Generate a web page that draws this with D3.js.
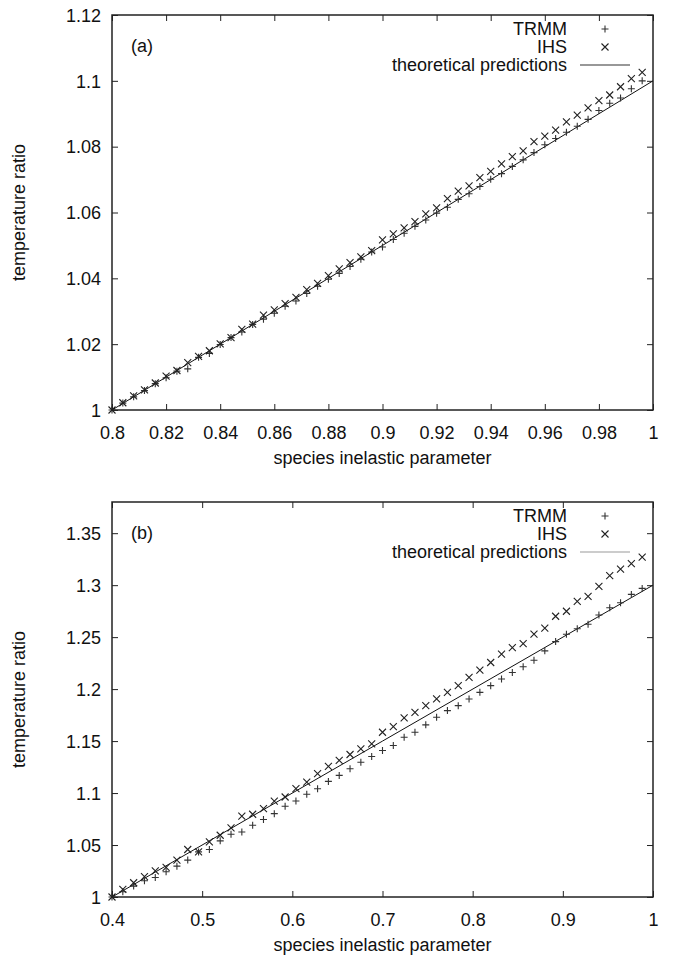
<!DOCTYPE html>
<html><head><meta charset="utf-8">
<script src="https://cdn.jsdelivr.net/npm/d3@7"></script>
<style>
body{margin:0;background:#fff;}
svg{display:block;}
text{font-family:"Liberation Sans",Arial,Helvetica,sans-serif;fill:#111;}
</style></head>
<body>
<svg id="chart" width="682" height="959"></svg>
<script>
// ---------- Panel (a) data ----------
const xA = [0.800,0.804,0.808,0.812,0.816,0.820,0.824,0.828,0.832,0.836,0.840,0.844,0.848,0.852,0.856,0.860,0.864,0.868,0.872,0.876,0.880,0.884,0.888,0.892,0.896,0.900,0.904,0.908,0.912,0.916,0.920,0.924,0.928,0.932,0.936,0.940,0.944,0.948,0.952,0.956,0.960,0.964,0.968,0.972,0.976,0.980,0.984,0.988,0.992,0.996];
const trmmA = [1.0000,1.0021,1.0040,1.0059,1.0080,1.0098,1.0118,1.0125,1.0160,1.0172,1.0199,1.0220,1.0237,1.0260,1.0276,1.0294,1.0315,1.0331,1.0354,1.0376,1.0397,1.0415,1.0436,1.0458,1.0480,1.0495,1.0518,1.0537,1.0558,1.0577,1.0598,1.0616,1.0640,1.0657,1.0679,1.0701,1.0718,1.0740,1.0760,1.0782,1.0806,1.0825,1.0844,1.0862,1.0883,1.0910,1.0932,1.0948,1.0976,1.1000];
const ihsA = [1.0000,1.0022,1.0043,1.0061,1.0082,1.0103,1.0120,1.0144,1.0163,1.0180,1.0201,1.0220,1.0245,1.0261,1.0288,1.0304,1.0323,1.0342,1.0366,1.0385,1.0408,1.0429,1.0448,1.0465,1.0484,1.0517,1.0535,1.0553,1.0572,1.0596,1.0614,1.0642,1.0665,1.0681,1.0706,1.0725,1.0748,1.0770,1.0787,1.0815,1.0832,1.0850,1.0875,1.0896,1.0918,1.0940,1.0957,1.0982,1.1007,1.1026];
const theoryXA = [0.8, 0.9, 1.0];
const theoryYA = [1.0, 1.05, 1.1];
const xTicksA = [0.8,0.82,0.84,0.86,0.88,0.9,0.92,0.94,0.96,0.98,1];
const xTickLabelsA = ["0.8","0.82","0.84","0.86","0.88","0.9","0.92","0.94","0.96","0.98","1"];
const yTicksA = [1,1.02,1.04,1.06,1.08,1.1,1.12];
const yTickLabelsA = ["1","1.02","1.04","1.06","1.08","1.1","1.12"];

// ---------- Panel (b) data ----------
const xB = [0.400,0.412,0.424,0.436,0.448,0.460,0.472,0.484,0.496,0.508,0.520,0.532,0.544,0.556,0.568,0.580,0.592,0.604,0.616,0.628,0.640,0.652,0.664,0.676,0.688,0.700,0.712,0.724,0.736,0.748,0.760,0.772,0.784,0.796,0.808,0.820,0.832,0.844,0.856,0.868,0.880,0.892,0.904,0.916,0.928,0.940,0.952,0.964,0.976,0.988];
const trmmB = [1.0000,1.0051,1.0105,1.0156,1.0188,1.0243,1.0297,1.0355,1.0434,1.0457,1.0540,1.0604,1.0626,1.0690,1.0745,1.0802,1.0873,1.0923,1.0988,1.1042,1.1112,1.1170,1.1234,1.1297,1.1352,1.1409,1.1457,1.1537,1.1585,1.1656,1.1729,1.1793,1.1841,1.1905,1.1969,1.2033,1.2097,1.2160,1.2215,1.2278,1.2368,1.2457,1.2528,1.2580,1.2624,1.2713,1.2783,1.2831,1.2911,1.2969];
const ihsB = [1.0000,1.0074,1.0137,1.0195,1.0252,1.0285,1.0355,1.0457,1.0434,1.0530,1.0594,1.0664,1.0777,1.0796,1.0850,1.0923,1.0962,1.1042,1.1106,1.1186,1.1256,1.1314,1.1371,1.1426,1.1474,1.1585,1.1640,1.1723,1.1777,1.1841,1.1905,1.1969,1.2033,1.2112,1.2183,1.2256,1.2336,1.2400,1.2438,1.2528,1.2586,1.2701,1.2749,1.2845,1.2893,1.2989,1.3091,1.3155,1.3207,1.3270];
const theoryXB = [0.4, 0.7, 1.0];
const theoryYB = [1.0, 1.15, 1.3];
const xTicksB = [0.4,0.5,0.6,0.7,0.8,0.9,1];
const xTickLabelsB = ["0.4","0.5","0.6","0.7","0.8","0.9","1"];
const yTicksB = [1,1.05,1.1,1.15,1.2,1.25,1.3,1.35];
const yTickLabelsB = ["1","1.05","1.1","1.15","1.2","1.25","1.3","1.35"];

const seriesNames = ["TRMM","IHS","theoretical predictions"];
const xTitle = "species inelastic parameter";
const yTitle = "temperature ratio";

const svg = d3.select("#chart");
const FS = 18;

function plusPath(r){ return `M${-r},0H${r}M0,${-r}V${r}`; }
function crossPath(r){ return `M${-r},${-r}L${r},${r}M${-r},${r}L${r},${-r}`; }

function drawPanel(p){
  const L=112, R=653, T=p.top, B=p.top+395;
  const x = d3.scaleLinear().domain(p.xDomain).range([L,R]);
  const y = d3.scaleLinear().domain(p.yDomain).range([B,T]);
  const g = svg.append("g");
  const tk = 6;

  const xLab = d3.scaleOrdinal().domain(p.xTicks).range(p.xLabels);
  const yLab = d3.scaleOrdinal().domain(p.yTicks).range(p.yLabels);

  const ax = g.append("g").attr("transform",`translate(0,${B})`)
    .call(d3.axisBottom(x).tickValues(p.xTicks).tickFormat(d=>xLab(d)).tickSize(-tk).tickPadding(16));
  const axT = g.append("g").attr("transform",`translate(0,${T})`)
    .call(d3.axisTop(x).tickValues(p.xTicks).tickFormat("").tickSize(-tk));
  const ay = g.append("g").attr("transform",`translate(${L},0)`)
    .call(d3.axisLeft(y).tickValues(p.yTicks).tickFormat(d=>yLab(d)).tickSize(-tk).tickPadding(11));
  const ayR = g.append("g").attr("transform",`translate(${R},0)`)
    .call(d3.axisRight(y).tickValues(p.yTicks).tickFormat("").tickSize(-tk));
  [ax,axT,ay,ayR].forEach(a=>{
    a.select(".domain").remove();
    a.selectAll(".tick line").attr("stroke","#222").attr("stroke-width",1);
    a.selectAll(".tick text").attr("font-size",FS).attr("font-family","Liberation Sans, Arial, sans-serif").attr("fill","#111");
  });
  ay.selectAll(".tick text").attr("dy","0.35em");

  // theory line
  const line = d3.line().x(d=>x(d[0])).y(d=>y(d[1]));
  g.append("path").datum(p.thX.map((v,i)=>[v,p.thY[i]]))
    .attr("d",line).attr("fill","none").attr("stroke","#111").attr("stroke-width",1);

  // markers
  const r = 3.5;
  g.append("g").selectAll("path").data(p.xs.map((v,i)=>[v,p.trmm[i]])).join("path")
    .attr("transform",d=>`translate(${x(d[0])},${y(d[1])})`)
    .attr("d",plusPath(r)).attr("stroke","#333").attr("stroke-width",1.1).attr("fill","none");
  g.append("g").selectAll("path").data(p.xs.map((v,i)=>[v,p.ihs[i]])).join("path")
    .attr("transform",d=>`translate(${x(d[0])},${y(d[1])})`)
    .attr("d",crossPath(r)).attr("stroke","#222").attr("stroke-width",1.1).attr("fill","none");

  // frame
  g.append("rect").attr("x",L).attr("y",T).attr("width",R-L).attr("height",B-T)
    .attr("fill","none").attr("stroke","#222").attr("stroke-width",1.5);

  // panel label
  g.append("text").attr("x",131).attr("y",T+37).attr("font-size",FS).text(p.label);

  // legend
  const rows = [T+14, T+32, T+50];
  seriesNames.forEach((s,i)=>{
    g.append("text").attr("x",567).attr("y",rows[i]).attr("dy","0.35em")
      .attr("text-anchor","end").attr("font-size",FS).text(s);
  });
  g.append("path").attr("transform",`translate(605,${rows[0]})`).attr("d",plusPath(r))
    .attr("stroke","#333").attr("stroke-width",1.1);
  g.append("path").attr("transform",`translate(605,${rows[1]})`).attr("d",crossPath(r))
    .attr("stroke","#222").attr("stroke-width",1.1);
  g.append("line").attr("x1",580).attr("x2",630).attr("y1",rows[2]).attr("y2",rows[2])
    .attr("stroke",p.legendLineColor).attr("stroke-width",1.2);

  // axis titles
  g.append("text").attr("x",(L+R)/2).attr("y",B+54).attr("text-anchor","middle")
    .attr("font-size",FS).text(xTitle);
  g.append("text").attr("transform",`translate(25,${(T+B)/2}) rotate(-90)`)
    .attr("text-anchor","middle").attr("font-size",FS).text(yTitle);
}

drawPanel({top:15, xDomain:[0.8,1], yDomain:[1,1.12], xTicks:xTicksA, xLabels:xTickLabelsA,
  yTicks:yTicksA, yLabels:yTickLabelsA, xs:xA, trmm:trmmA, ihs:ihsA, thX:theoryXA, thY:theoryYA,
  label:"(a)", legendLineColor:"#333"});
drawPanel({top:502, xDomain:[0.4,1], yDomain:[1,1.38], xTicks:xTicksB, xLabels:xTickLabelsB,
  yTicks:yTicksB, yLabels:yTickLabelsB, xs:xB, trmm:trmmB, ihs:ihsB, thX:theoryXB, thY:theoryYB,
  label:"(b)", legendLineColor:"#999"});
</script>
</body></html>
